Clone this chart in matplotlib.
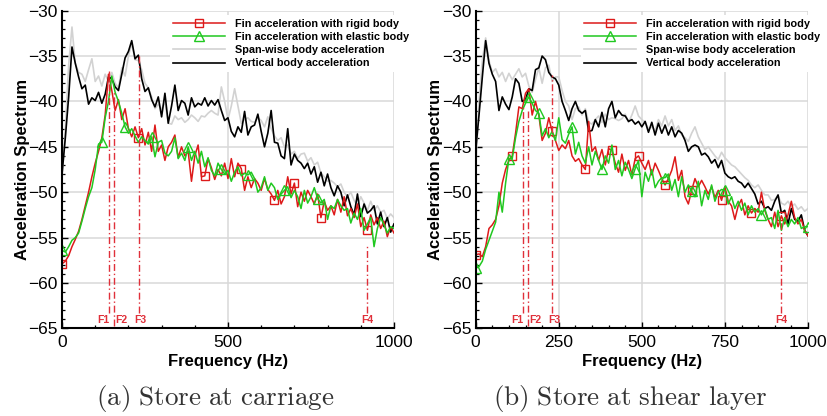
import numpy as np
import matplotlib
matplotlib.use("Agg")
import matplotlib.pyplot as plt
from matplotlib.ticker import MultipleLocator

plt.rcParams['font.family'] = ['Liberation Sans', 'DejaVu Sans']
plt.rcParams['mathtext.fontset'] = 'cm'

# ---------------- data ----------------
freq = np.arange(0, 1001, 10)

# (a) Store at carriage
a_vertical = [-48.0, -44.0, -39.5, -34.0, -35.8, -37.3, -38.6, -38.2, -40.3, -39.6,
              -39.9, -39.0, -40.2, -39.2, -37.3, -37.5, -38.4, -38.8, -37.0, -35.2,
              -34.5, -33.3, -35.3, -34.9, -37.5, -38.9, -38.5, -39.8, -40.6, -39.5,
              -41.7, -39.1, -42.4, -40.5, -38.2, -41.0, -39.9, -40.2, -41.5, -39.6,
              -40.6, -40.2, -40.4, -39.6, -40.5, -39.9, -40.4, -39.8, -41.0, -42.1,
              -41.8, -43.3, -43.9, -42.8, -43.4, -41.1, -43.7, -42.8, -42.6, -41.4,
              -43.3, -45.0, -43.5, -41.0, -44.5, -44.6, -46.0, -46.3, -43.0, -47.0,
              -45.8, -46.5, -46.8, -47.4, -46.8, -48.0, -47.2, -48.9, -47.8, -49.3,
              -48.0, -49.5, -50.4, -49.3, -50.0, -51.5, -50.3, -51.6, -52.5, -50.2,
              -52.7, -51.3, -52.3, -52.0, -51.5, -53.5, -52.2, -53.8, -52.8, -54.4,
              -53.5]
a_spanwise = [-48.5, -43.0, -36.0, -31.8, -35.8, -36.8, -37.0, -37.8, -36.5, -35.3,
              -37.8, -37.2, -38.3, -37.0, -37.8, -36.8, -38.0, -38.5, -36.3, -37.2,
              -35.0, -33.6, -35.4, -35.5, -36.5, -38.0, -38.5, -39.5, -40.8, -40.3,
              -40.9, -40.0, -42.4, -42.5, -41.6, -42.0, -41.8, -42.3, -42.0, -41.5,
              -41.8, -42.2, -41.6, -41.7, -41.3, -41.0, -41.3, -41.5, -38.4, -40.0,
              -42.0, -40.5, -38.6, -40.5, -42.4, -42.0, -41.8, -42.2, -42.3, -41.8,
              -42.1, -42.8, -41.7, -43.0, -43.8, -44.3, -44.0, -45.0, -44.8, -45.8,
              -45.5, -46.3, -45.8, -45.7, -46.6, -46.2, -47.0, -46.7, -47.9, -48.3,
              -48.8, -48.7, -49.0, -49.4, -49.1, -50.0, -50.5, -50.0, -50.9, -51.5,
              -50.5, -51.2, -52.0, -51.0, -52.0, -51.5, -52.2, -52.0, -52.9, -52.4,
              -52.8]
a_rigid = [-57.9, -57.6, -57.0, -56.0, -55.2, -54.3, -53.0, -51.5, -50.0, -48.3,
           -46.8, -45.5, -44.0, -41.5, -37.0, -38.8, -41.0, -39.8, -42.0, -40.8,
           -43.0, -43.9, -42.8, -44.0, -43.0, -44.8, -43.4, -45.5, -42.6, -45.5,
           -44.8, -46.5, -45.0, -44.5, -43.7, -46.2, -45.0, -46.0, -45.5, -48.8,
           -46.0, -44.8, -48.3, -48.2, -46.3, -47.3, -48.6, -47.5, -48.2, -46.8,
           -48.5, -46.3, -48.3, -46.8, -47.4, -49.8, -48.3, -49.5, -48.5, -49.0,
           -49.8, -48.5, -49.7, -50.2, -50.9, -49.8, -51.3, -50.5, -48.3, -50.2,
           -49.0, -51.6, -50.0, -51.0, -49.8, -50.5, -51.3, -50.2, -52.8, -51.0,
           -52.0, -51.5, -52.5, -50.8, -52.2, -50.5, -52.6, -51.8, -52.8, -51.3,
           -53.8, -52.8, -54.2, -52.5, -53.6, -52.8, -54.0, -53.2, -54.9, -53.8,
           -54.5]
a_elastic = [-56.4, -56.6, -56.0, -55.3, -55.0, -54.5, -53.2, -51.8, -50.5, -49.5,
             -47.5, -44.7, -44.5, -41.8, -40.0, -37.2, -39.0, -40.0, -41.3, -42.8,
             -43.5, -43.0, -43.8, -44.5, -43.9, -44.3, -44.7, -43.9, -46.1, -44.5,
             -44.3, -45.7, -46.0, -45.5, -44.0, -46.3, -45.7, -46.5, -45.0, -46.5,
             -45.5, -46.8, -45.5, -47.2, -46.2, -47.6, -48.2, -46.8, -47.5, -48.0,
             -47.6, -48.8, -47.8, -47.2, -48.2, -47.9, -48.1, -47.8, -48.5, -50.0,
             -49.5, -48.3, -49.8, -49.0, -49.5, -50.8, -50.2, -49.8, -49.4, -50.6,
             -49.8, -50.5, -51.8, -49.8, -51.2, -50.5, -49.5, -50.7, -51.2, -50.8,
             -53.0, -51.5, -51.8, -50.8, -51.5, -52.0, -51.8, -53.4, -52.3, -53.0,
             -51.8, -54.2, -53.5, -52.8, -56.0, -54.0, -52.8, -53.6, -54.5, -53.8,
             -54.0]

# (b) Store at shear layer
b_vertical = [-45.4, -41.5, -37.3, -33.3, -35.8, -37.0, -37.8, -41.0, -39.5, -40.3,
              -40.9, -39.5, -37.5, -38.0, -40.0, -39.8, -38.6, -38.8, -36.5, -36.3,
              -35.0, -35.4, -36.8, -37.3, -37.5, -38.2, -40.0, -41.0, -42.1, -40.8,
              -40.0, -41.0, -41.3, -41.0, -43.3, -43.2, -42.0, -42.8, -41.2, -42.8,
              -40.8, -40.0, -41.8, -41.0, -41.5, -41.6, -42.2, -42.0, -42.5, -42.2,
              -42.8, -42.2, -43.4, -42.3, -43.7, -42.4, -43.5, -42.6, -43.7, -42.8,
              -43.9, -43.2, -43.5, -44.3, -45.5, -45.0, -44.8, -45.0, -45.9, -45.7,
              -46.1, -46.8, -46.4, -47.3, -46.5, -47.9, -48.3, -48.5, -48.3, -48.8,
              -49.0, -49.5, -49.0, -49.6, -50.2, -51.3, -51.0, -51.8, -51.6, -52.0,
              -51.0, -50.3, -52.3, -52.0, -53.5, -51.8, -53.0, -53.2, -52.5, -54.2,
              -54.8]
b_spanwise = [-47.5, -40.0, -35.5, -33.0, -35.5, -36.8, -36.4, -37.3, -36.8, -37.8,
              -36.9, -37.6, -37.0, -36.4, -37.3, -36.9, -38.3, -39.0, -37.6, -36.3,
              -38.0, -36.3, -36.0, -37.8, -37.3, -37.3, -38.8, -40.0, -40.5, -42.0,
              -40.8, -40.6, -41.5, -40.8, -42.3, -42.5, -42.0, -41.6, -42.3, -41.4,
              -42.0, -41.8, -41.9, -42.1, -41.9, -41.4, -42.3, -41.5, -40.5, -41.6,
              -42.0, -42.3, -43.0, -42.8, -43.2, -42.0, -42.7, -41.6, -42.7, -42.0,
              -43.2, -42.7, -43.7, -44.0, -44.4, -43.5, -42.8, -43.9, -44.6, -45.3,
              -45.0, -45.5, -46.0, -46.4, -45.6, -46.2, -46.6, -47.0, -47.2, -47.6,
              -48.0, -48.4, -48.7, -49.2, -49.5, -49.2, -49.8, -50.3, -50.3, -50.9,
              -50.8, -50.4, -51.2, -51.4, -51.0, -51.6, -51.3, -51.9, -51.6, -52.1,
              -51.8]
b_rigid = [-56.9, -56.8, -57.1, -56.0, -54.0, -53.6, -53.0, -51.5, -49.0, -47.5,
           -46.5, -46.0, -43.5, -40.6, -40.8, -39.1, -38.6, -41.5, -40.0, -41.5,
           -44.3, -43.5, -41.8, -43.3, -44.3, -45.4, -44.8, -45.2, -44.3, -46.0,
           -46.6, -46.3, -47.0, -47.5, -42.2, -45.5, -45.0, -46.5, -45.3, -47.0,
           -45.2, -45.4, -46.8, -47.8, -45.8, -47.6, -46.5, -48.1, -46.3, -46.0,
           -46.8, -47.5, -46.5, -48.1, -46.8, -47.6, -48.5, -49.2, -48.5, -47.6,
           -46.1, -48.7, -47.6, -50.5, -51.3, -49.8, -48.5, -49.4, -48.7, -49.4,
           -50.2, -49.4, -50.6, -49.8, -50.9, -49.4, -51.0, -51.5, -53.0, -51.5,
           -50.8, -52.5, -51.5, -52.3, -51.8, -52.2, -50.0, -52.0, -53.0, -53.8,
           -52.2, -53.8, -52.6, -53.5, -52.5, -51.0, -52.8, -53.5, -53.0, -54.2,
           -54.8]
b_elastic = [-58.4, -58.2, -57.6, -56.3, -55.3, -54.3, -53.3, -50.0, -52.2, -49.0,
             -46.3, -46.3, -44.0, -42.2, -41.0, -40.2, -39.5, -40.2, -41.0, -41.3,
             -43.8, -43.0, -44.0, -43.3, -44.3, -41.8, -44.2, -44.6, -43.6, -42.8,
             -45.8, -44.5, -46.0, -46.8, -45.0, -47.0, -45.5, -46.5, -47.5, -46.0,
             -46.8, -44.8, -47.5, -46.5, -48.2, -46.7, -47.5, -48.5, -47.4, -46.5,
             -50.5, -47.8, -48.8, -47.5, -49.5, -48.8, -48.4, -48.4, -48.0, -49.8,
             -48.6, -50.5, -48.3, -50.0, -49.2, -49.9, -50.5, -48.8, -51.5, -49.8,
             -50.8, -49.2, -51.0, -50.0, -49.7, -49.8, -51.3, -50.5, -51.8, -51.0,
             -52.0, -51.2, -52.5, -51.5, -52.2, -51.8, -52.5, -51.8, -53.0, -52.8,
             -54.0, -52.0, -54.2, -52.8, -53.8, -53.0, -53.5, -52.8, -54.0, -53.8,
             -53.8]

# symbol positions (sample indices)
a_rigid_marks = [0, 23, 43, 54, 64, 70, 78, 92]
a_elastic_marks = [0, 12, 19, 27, 38, 48, 56, 67, 77]
b_rigid_marks = [0, 11, 23, 33, 41, 49, 57, 65, 74, 83, 92]
b_elastic_marks = [0, 10, 16, 19, 29, 38, 48, 57, 65, 75, 86, 100]

# natural-frequency markers
f_labels = ['F1', 'F2', 'F3', 'F4']
f_freqs = [142, 157, 231, 920]
f_label_x = [125, 178, 237, 921]
a_f_tops = [-36.7, -38.8, -34.9, -55.9]
b_f_tops = [-40.6, -41.0, -37.1, -53.1]
f_bottoms = [-63.3, -64.8, -63.3, -63.3]

legend_labels = ['Fin acceleration with rigid body',
                 'Fin acceleration with elastic body',
                 'Span-wise body acceleration',
                 'Vertical body acceleration']
captions = [r'$\mathrm{(a)\ Store\ at\ carriage}$',
            r'$\mathrm{(b)\ Store\ at\ shear\ layer}$']

RED = '#dd1a1a'
GREEN = '#20c820'
GRAY = '#d2d2d2'
FRED = '#e0303a'

fig = plt.figure(figsize=(8.28, 4.16), dpi=100)
ax_a = fig.add_axes([0.0749, 0.2108, 0.4009, 0.7635])
ax_b = fig.add_axes([0.5745, 0.2108, 0.4013, 0.7635])

panels = [
    (ax_a, a_vertical, a_spanwise, a_rigid, a_elastic, a_rigid_marks, a_elastic_marks, a_f_tops, 500, 100, 0.325),
    (ax_b, b_vertical, b_spanwise, b_rigid, b_elastic, b_rigid_marks, b_elastic_marks, b_f_tops, 250, 50, 0.317),
]

for (ax, vert, span, rigid, elastic, rmarks, emarks, ftops, major, minor, legx) in panels:
    l1, = ax.plot(freq, rigid, color=RED, lw=1.1, marker='s', markevery=rmarks,
                  ms=5.5, mfc='none', mec=RED, mew=1.0, zorder=4)
    l2, = ax.plot(freq, elastic, color=GREEN, lw=1.1, marker='^', markevery=emarks,
                  ms=6.5, mfc='none', mec=GREEN, mew=1.0, zorder=5)
    l3, = ax.plot(freq, span, color=GRAY, lw=1.2, zorder=2)
    l4, = ax.plot(freq, vert, color='black', lw=1.2, zorder=3)

    ax.vlines(f_freqs, f_bottoms, ftops, colors=FRED, lw=1.0,
              linestyles=[(0, (5, 2, 1, 2))], zorder=6)
    for lab, fx in zip(f_labels, f_label_x):
        ax.text(fx, -64.1, lab, color=FRED, fontsize=7.5, fontweight='bold',
                ha='center', va='center', zorder=7)

    ax.set_xlim(0, 1000)
    ax.set_ylim(-65, -30)
    ax.xaxis.set_major_locator(MultipleLocator(major))
    ax.xaxis.set_minor_locator(MultipleLocator(minor))
    ax.yaxis.set_major_locator(MultipleLocator(5))
    ax.yaxis.set_minor_locator(MultipleLocator(1))
    ax.grid(True, which='major', color='#d9d9d9', lw=1.1, zorder=0)
    ax.set_axisbelow(True)
    for s in ['top', 'right']:
        ax.spines[s].set_visible(False)
    for s in ['left', 'bottom']:
        ax.spines[s].set_linewidth(1.5)
        ax.spines[s].set_zorder(8)
    ax.tick_params(which='major', direction='in', length=4, width=1.0,
                   labelsize=12.5)
    ax.tick_params(axis='y', which='major', pad=3)
    ax.tick_params(axis='x', which='major', pad=5)
    ax.tick_params(which='minor', direction='in', length=2.2, width=0.9)
    ax.tick_params(top=False, right=False, which='both')
    ax.set_xlabel('Frequency (Hz)', fontsize=12, fontweight='bold', labelpad=3)
    ax.set_ylabel('Acceleration Spectrum', fontsize=12, fontweight='bold', labelpad=-1)

    leg = ax.legend([l1, l2, l3, l4], legend_labels, loc='upper left',
                    bbox_to_anchor=(legx, 0.985), borderaxespad=0,
                    prop={'weight': 'bold', 'size': 7.8}, handlelength=4.8,
                    handletextpad=0.9, labelspacing=0.3, borderpad=0.3,
                    frameon=True, fancybox=False, framealpha=1.0)
    leg.get_frame().set_facecolor('white')
    leg.get_frame().set_edgecolor('none')
    leg.set_zorder(10)

fig.text(0.2597, 0.043, captions[0], ha='center', va='center', fontsize=19.5, color='#333333')
fig.text(0.761, 0.043, captions[1], ha='center', va='center', fontsize=19.5, color='#333333')

fig.savefig('out.png', dpi=100)
